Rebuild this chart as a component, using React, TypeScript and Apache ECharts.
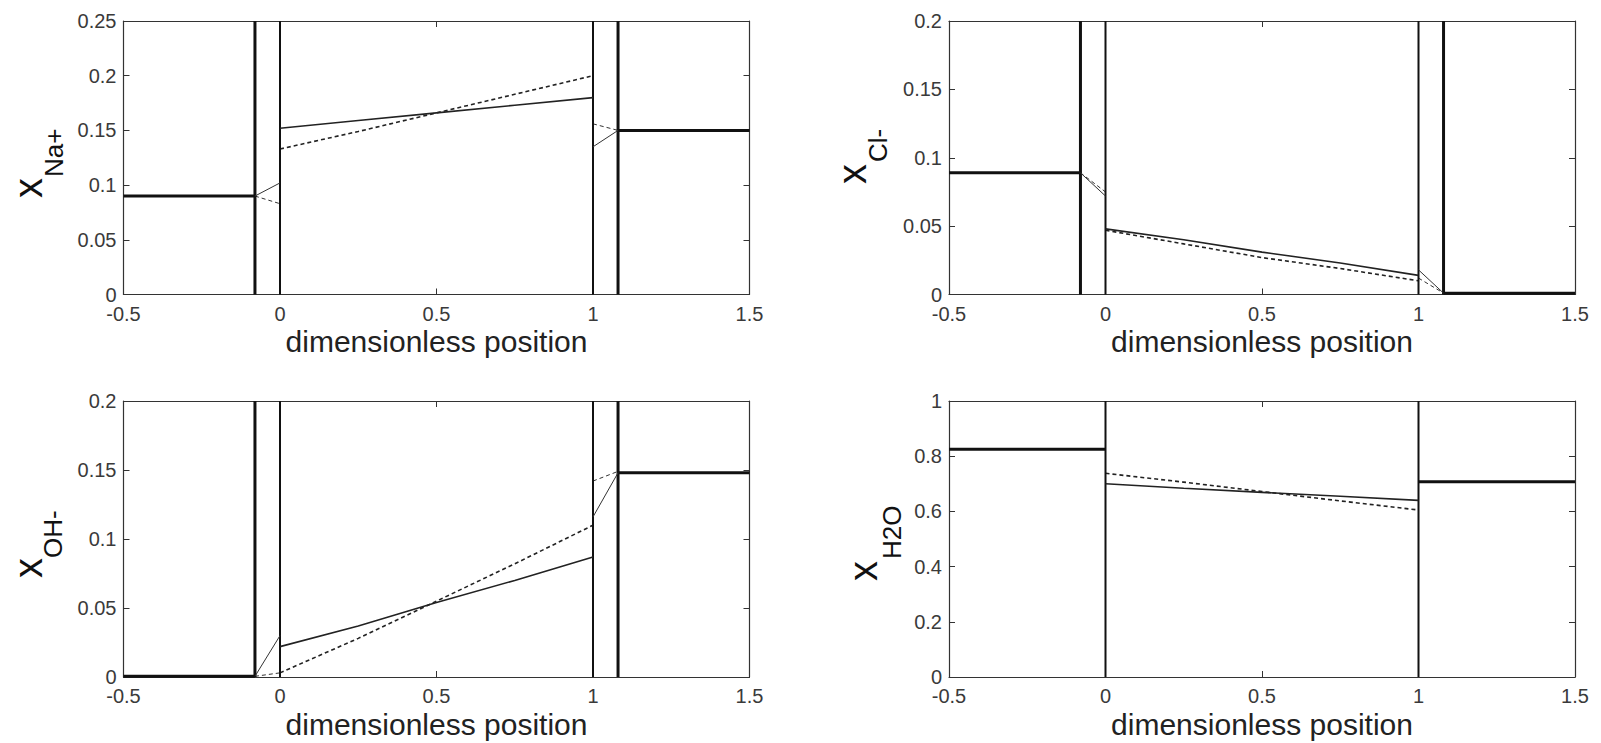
import React, { useEffect, useRef } from 'react';
import * as echarts from 'echarts';

// ---------- data ----------
const xTickValues = [-0.5, 0, 0.5, 1, 1.5];
const xMin = -0.5;
const xMax = 1.5;
const xInterval = 0.5;

// membrane boundaries (dimensionless position)
const ionMembraneEdges = [-0.08, 0, 1, 1.08];
const waterMembraneEdges = [0, 1];

// y-axis ranges per panel: [max, interval]
const naRange = [0.25, 0.05];
const clRange = [0.2, 0.05];
const ohRange = [0.2, 0.05];
const h2oRange = [1, 0.2];

// Na+
const naBulk = [0.09, 0.15];
const naMemLeftSolid = [[-0.08, 0.09], [0, 0.102]];
const naMemLeftDashed = [[-0.08, 0.09], [0, 0.083]];
const naMidSolid = [[0, 0.152], [0.25, 0.159], [0.5, 0.166], [0.75, 0.173], [1, 0.18]];
const naMidDashed = [[0, 0.133], [0.25, 0.149], [0.5, 0.166], [0.75, 0.183], [1, 0.2]];
const naMemRightSolid = [[1, 0.135], [1.08, 0.15]];
const naMemRightDashed = [[1, 0.156], [1.08, 0.15]];

// Cl-
const clBulk = [0.089, 0.001];
const clMemLeftSolid = [[-0.08, 0.089], [0, 0.072]];
const clMemLeftDashed = [[-0.08, 0.089], [0, 0.075]];
const clMidSolid = [[0, 0.048], [0.25, 0.04], [0.5, 0.031], [0.75, 0.023], [1, 0.014]];
const clMidDashed = [[0, 0.047], [0.25, 0.037], [0.5, 0.027], [0.75, 0.019], [1, 0.01]];
const clMemRightSolid = [[1, 0.018], [1.08, 0.001]];
const clMemRightDashed = [[1, 0.012], [1.08, 0.001]];

// OH-
const ohBulk = [0.0005, 0.148];
const ohMemLeftSolid = [[-0.08, 0.0005], [0, 0.03]];
const ohMemLeftDashed = [[-0.08, 0.0005], [0, 0.003]];
const ohMidSolid = [[0, 0.022], [0.25, 0.037], [0.5, 0.054], [0.75, 0.07], [1, 0.087]];
const ohMidDashed = [[0, 0.003], [0.25, 0.028], [0.5, 0.055], [0.75, 0.082], [1, 0.11]];
const ohMemRightSolid = [[1, 0.116], [1.08, 0.148]];
const ohMemRightDashed = [[1, 0.142], [1.08, 0.149]];

// H2O
const h2oBulk = [0.825, 0.707];
const h2oMidSolid = [[0, 0.7], [0.25, 0.684], [0.5, 0.669], [0.75, 0.655], [1, 0.64]];
const h2oMidDashed = [[0, 0.738], [0.25, 0.706], [0.5, 0.672], [0.75, 0.638], [1, 0.605]];

const xTitle = 'dimensionless position';
const ySubscripts = ['Na+', 'Cl-', 'OH-', 'H2O'];

// ---------- helpers ----------
const FONT = '"Liberation Sans", Arial, Helvetica, sans-serif';

const grids = [
  { left: 123.5, top: 21, width: 626, height: 273.5 },
  { left: 949, top: 21, width: 626, height: 273.5 },
  { left: 123.5, top: 401, width: 626, height: 276 },
  { left: 949, top: 401, width: 626, height: 276 },
];

const ranges = [naRange, clRange, ohRange, h2oRange];

function buildAxes() {
  const xAxes: any[] = [];
  const yAxes: any[] = [];
  ranges.forEach((r, g) => {
    const axisLine = { show: true, onZero: false, lineStyle: { color: '#333', width: 1.2 } };
    const axisTick = { show: true, inside: true, length: 6, lineStyle: { color: '#333', width: 1 } };
    xAxes.push({
      type: 'value', gridIndex: g, min: xMin, max: xMax, interval: xInterval, position: 'bottom',
      axisLine, axisTick, splitLine: { show: false },
      axisLabel: { show: true, margin: 9, fontSize: 20, fontFamily: FONT, color: '#3a3a3a',
        formatter: (v: number) => (xTickValues.includes(v) ? String(v) : '') },
      name: xTitle, nameLocation: 'middle', nameGap: 32,
      nameTextStyle: { fontSize: 30, fontFamily: FONT, color: '#222' },
    });
    xAxes.push({
      type: 'value', gridIndex: g, min: xMin, max: xMax, interval: xInterval, position: 'top',
      axisLine, axisTick, splitLine: { show: false }, axisLabel: { show: false },
    });
    yAxes.push({
      type: 'value', gridIndex: g, min: 0, max: r[0], interval: r[1], position: 'left',
      axisLine, axisTick, splitLine: { show: false },
      axisLabel: { show: true, margin: 7, fontSize: 20, fontFamily: FONT, color: '#3a3a3a' },
    });
    yAxes.push({
      type: 'value', gridIndex: g, min: 0, max: r[0], interval: r[1], position: 'right',
      axisLine, axisTick, splitLine: { show: false }, axisLabel: { show: false },
    });
  });
  return { xAxes, yAxes };
}

function line(g: number, data: number[][], width: number, dashed = false, color = '#111') {
  return {
    type: 'line',
    xAxisIndex: 2 * g,
    yAxisIndex: 2 * g,
    data,
    symbol: 'none',
    showSymbol: false,
    silent: true,
    lineStyle: { color, width, type: dashed ? [4, 3] : 'solid' },
    z: dashed ? 3 : 4,
  };
}

function panelSeries(
  g: number,
  edges: number[],
  yMax: number,
  bulk: number[],
  mid: { solid: number[][]; dashed: number[][] },
  memLeft?: { solid: number[][]; dashed: number[][] },
  memRight?: { solid: number[][]; dashed: number[][] },
) {
  const s: any[] = [];
  edges.forEach((e, i) => {
    const outer = edges.length === 4 && (i === 0 || i === 3);
    s.push(line(g, [[e, 0], [e, yMax]], outer ? 3 : 2, false, '#111'));
  });
  const leftEdge = edges[0];
  const rightEdge = edges[edges.length - 1];
  s.push(line(g, [[xMin, bulk[0]], [leftEdge, bulk[0]]], 3, false, '#111'));
  s.push(line(g, [[rightEdge, bulk[1]], [xMax, bulk[1]]], 3, false, '#111'));
  s.push(line(g, mid.solid, 1.6, false, '#222'));
  s.push(line(g, mid.dashed, 1.6, true, '#222'));
  if (memLeft) {
    s.push(line(g, memLeft.solid, 1, false, '#333'));
    s.push(line(g, memLeft.dashed, 1, true, '#333'));
  }
  if (memRight) {
    s.push(line(g, memRight.solid, 1, false, '#333'));
    s.push(line(g, memRight.dashed, 1, true, '#333'));
  }
  return s;
}

const yLabelPos = [
  { xX: 28, xY: 198, sX: 54, sY: 177 },
  { xX: 852, xY: 184, sX: 878, sY: 162 },
  { xX: 28, xY: 578, sX: 53, sY: 558 },
  { xX: 863, xY: 581, sX: 892, sY: 559 },
];

export default function App() {
  const ref = useRef<HTMLDivElement>(null);
  useEffect(() => {
    if (!ref.current) return;
    const chart = echarts.init(ref.current, undefined, { renderer: 'svg' });
    const { xAxes, yAxes } = buildAxes();
    const series = [
      ...panelSeries(0, ionMembraneEdges, naRange[0], naBulk,
        { solid: naMidSolid, dashed: naMidDashed },
        { solid: naMemLeftSolid, dashed: naMemLeftDashed },
        { solid: naMemRightSolid, dashed: naMemRightDashed }),
      ...panelSeries(1, ionMembraneEdges, clRange[0], clBulk,
        { solid: clMidSolid, dashed: clMidDashed },
        { solid: clMemLeftSolid, dashed: clMemLeftDashed },
        { solid: clMemRightSolid, dashed: clMemRightDashed }),
      ...panelSeries(2, ionMembraneEdges, ohRange[0], ohBulk,
        { solid: ohMidSolid, dashed: ohMidDashed },
        { solid: ohMemLeftSolid, dashed: ohMemLeftDashed },
        { solid: ohMemRightSolid, dashed: ohMemRightDashed }),
      ...panelSeries(3, waterMembraneEdges, h2oRange[0], h2oBulk,
        { solid: h2oMidSolid, dashed: h2oMidDashed }),
    ];
    const graphic: any[] = [];
    ySubscripts.forEach((sub, i) => {
      const p = yLabelPos[i];
      graphic.push({
        type: 'text', x: p.xX, y: p.xY, rotation: Math.PI / 2, silent: true,
        style: { text: 'x', fontSize: 40, fontFamily: FONT, fill: '#111', align: 'left', verticalAlign: 'middle' },
      });
      graphic.push({
        type: 'text', x: p.sX, y: p.sY, rotation: Math.PI / 2, silent: true,
        style: { text: sub, fontSize: 26, fontFamily: FONT, fill: '#111', align: 'left', verticalAlign: 'middle' },
      });
    });
    chart.setOption({
      animation: false,
      backgroundColor: '#fff',
      grid: grids.map((g) => ({ ...g, containLabel: false })),
      xAxis: xAxes,
      yAxis: yAxes,
      series,
      graphic,
    });
    return () => chart.dispose();
  }, []);
  return (
    <div
      ref={ref}
      style={{ position: 'fixed', left: 0, top: 0, width: 1601, height: 743, background: '#fff' }}
    />
  );
}
